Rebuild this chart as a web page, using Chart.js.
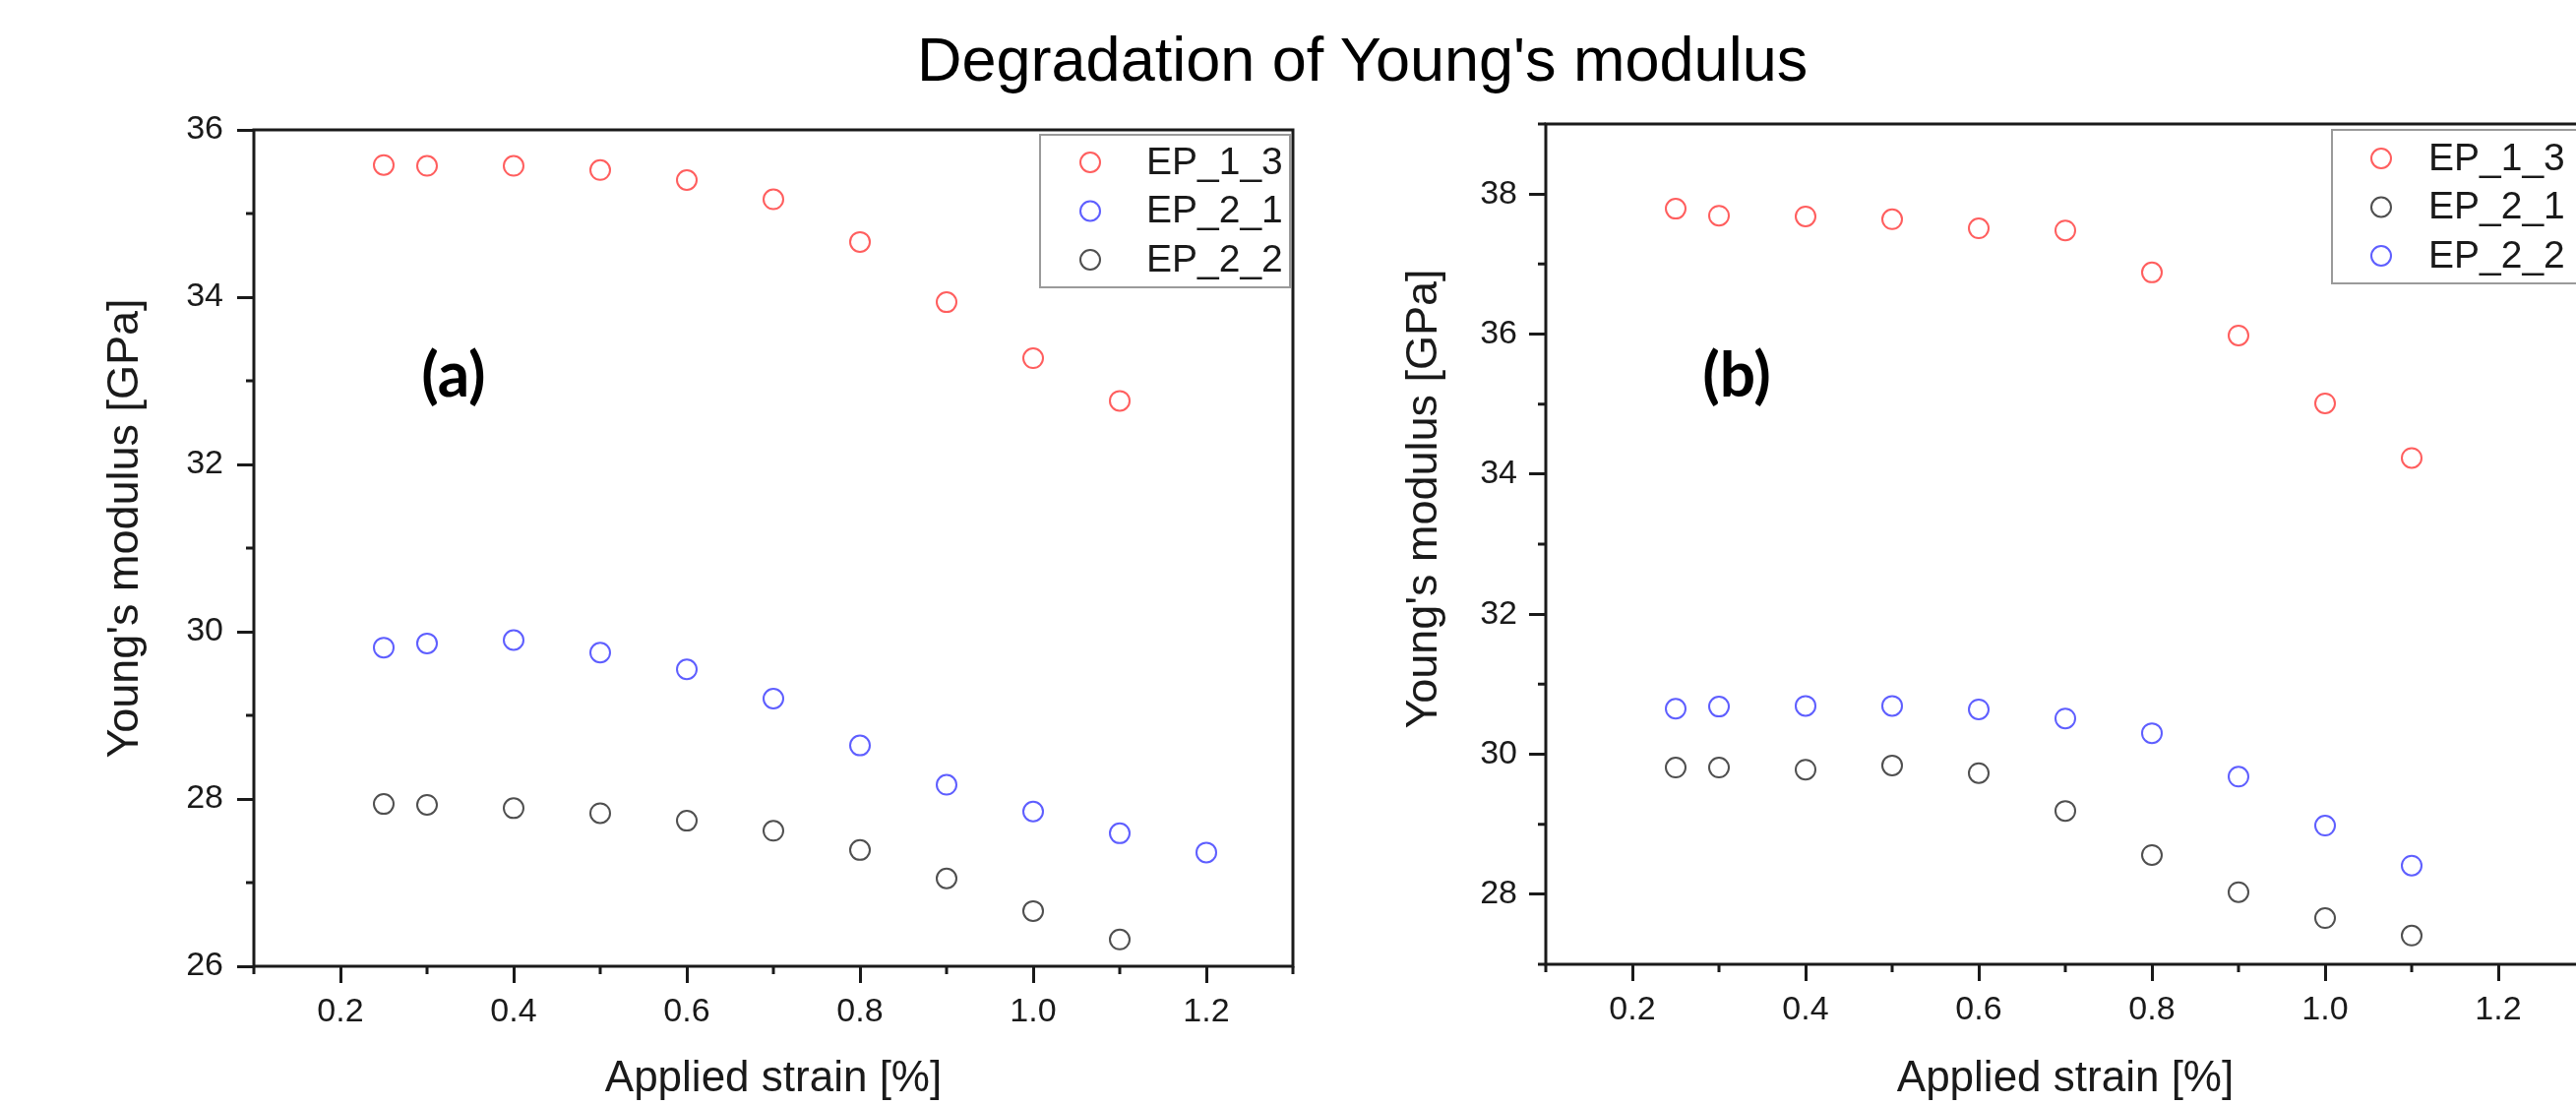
<!DOCTYPE html>
<html>
<head>
<meta charset="utf-8">
<title>Degradation of Young's modulus</title>
<script src="https://cdn.jsdelivr.net/npm/chart.js@4.4.0/dist/chart.umd.min.js"></script>
<style>
  html, body { margin: 0; padding: 0; background: #fff; overflow: hidden; }
  body { width: 2618px; height: 1123px; position: relative; }
  #title { position: absolute; left: 932px; top: 29px; font: 63px 'Liberation Sans', Arial, sans-serif; line-height: 1; color: #000; white-space: nowrap; }
  canvas { position: absolute; top: 0; }
  #left { left: 0; }
  #right { left: 1320px; }
</style>
</head>
<body>
<div id="title">Degradation of Young's modulus</div>
<canvas id="left" width="1340" height="1123"></canvas>
<canvas id="right" width="1340" height="1123"></canvas>
<script>
// applied strain [%]
const strain = [0.25, 0.3, 0.4, 0.5, 0.6, 0.7, 0.8, 0.9, 1.0, 1.1, 1.2];

// panel (a), Young's modulus [GPa]
const aEP13 = [35.58, 35.57, 35.57, 35.52, 35.40, 35.17, 34.66, 33.94, 33.27, 32.76];
const aEP21 = [29.81, 29.86, 29.90, 29.75, 29.55, 29.20, 28.64, 28.17, 27.85, 27.59, 27.36];
const aEP22 = [27.94, 27.93, 27.89, 27.83, 27.74, 27.62, 27.39, 27.05, 26.66, 26.32];

// panel (b)
const bEP13 = [37.79, 37.69, 37.68, 37.64, 37.51, 37.48, 36.88, 35.98, 35.01, 34.23];
const bEP21 = [29.81, 29.81, 29.78, 29.84, 29.73, 29.19, 28.56, 28.03, 27.66, 27.41];
const bEP22 = [30.65, 30.68, 30.69, 30.69, 30.64, 30.51, 30.30, 29.68, 28.98, 28.41];

// ticks
const xTicks = [0.2, 0.4, 0.6, 0.8, 1.0, 1.2];
const xMinor = [0.1, 0.3, 0.5, 0.7, 0.9, 1.1, 1.3];
const aYTicks = [26, 28, 30, 32, 34, 36];
const aYMinor = [27, 29, 31, 33, 35];
const bYTicks = [28, 30, 32, 34, 36, 38];
const bYMinor = [27, 29, 31, 33, 35, 37, 39];

const RED = '#ff5e5e';
const BLUE = '#5e5eff';
const GREY = '#4f4f4f';
const INK = '#1a1a1a';

Chart.defaults.font.family = "'Liberation Sans', Arial, sans-serif";
Chart.defaults.color = INK;

function pts(vals) {
  return vals.map((v, i) => ({x: strain[i], y: v}));
}

function series(label, vals, color) {
  return {
    label: label,
    data: pts(vals),
    borderColor: color,
    pointBorderColor: color,
    pointBackgroundColor: 'rgba(0,0,0,0)',
    pointRadius: 10,
    pointBorderWidth: 2,
    showLine: false
  };
}

// frame, minor ticks, y title, panel tag and boxed legend (Origin style)
const originBits = {
  id: 'originBits',
  afterDraw(chart, args, o) {
    const {ctx, chartArea: a, scales: {x, y}} = chart;
    ctx.save();
    ctx.strokeStyle = INK;
    ctx.lineWidth = 3;
    ctx.strokeRect(a.left, a.top, a.right - a.left, a.bottom - a.top);

    ctx.beginPath();
    o.xMinor.forEach(v => {
      const px = x.getPixelForValue(v);
      ctx.moveTo(px, a.bottom);
      ctx.lineTo(px, a.bottom + 8);
    });
    o.yMinor.forEach(v => {
      const py = y.getPixelForValue(v);
      ctx.moveTo(a.left, py);
      ctx.lineTo(a.left - 8, py);
    });
    ctx.stroke();

    // y axis title, placed like the original (not centred on the axis)
    ctx.save();
    ctx.translate(o.yTitleX, a.top + o.yTitleDy);
    ctx.rotate(-Math.PI / 2);
    ctx.fillStyle = INK;
    ctx.font = "45px 'Liberation Sans', Arial, sans-serif";
    ctx.textAlign = 'center';
    ctx.textBaseline = 'middle';
    ctx.fillText(chart.options.scales.y.title.text, 0, 0);
    ctx.restore();

    // (a) / (b)
    ctx.fillStyle = '#000';
    ctx.font = "bold 64px Lato, 'Open Sans', sans-serif";
    ctx.textAlign = 'center';
    ctx.textBaseline = 'middle';
    ctx.fillText(o.tag, a.left + o.tagDx, a.top + o.tagDy);

    // legend
    const L = o.legend;
    const bx = a.right + L.dx, by = a.top + L.dy;
    ctx.fillStyle = '#fff';
    ctx.fillRect(bx, by, L.w, L.h);
    ctx.strokeStyle = '#9a9a9a';
    ctx.lineWidth = 2;
    ctx.strokeRect(bx, by, L.w, L.h);
    ctx.font = "39px 'Liberation Sans', Arial, sans-serif";
    ctx.textAlign = 'left';
    chart.data.datasets.forEach((ds, i) => {
      const cy = by + L.row0 + i * L.rowGap;
      ctx.beginPath();
      ctx.strokeStyle = ds.borderColor;
      ctx.lineWidth = 2;
      ctx.arc(bx + L.mx, cy, 10, 0, Math.PI * 2);
      ctx.stroke();
      ctx.fillStyle = INK;
      ctx.fillText(ds.label, bx + L.tx, cy + 1);
    });
    ctx.restore();
  }
};

function makeChart(id, datasets, yMin, yMax, yTicks, yMinor, geo) {
  return new Chart(document.getElementById(id), {
    type: 'scatter',
    data: {datasets: datasets},
    plugins: [originBits],
    options: {
      responsive: false,
      animation: false,
      events: [],
      layout: {padding: {top: geo.top, right: geo.right, left: 0, bottom: 0}},
      plugins: {
        legend: {display: false},
        tooltip: {enabled: false},
        originBits: {
          xMinor: xMinor,
          yMinor: yMinor,
          yTitleX: 128,
          yTitleDy: geo.yTitleDy,
          tag: geo.tag,
          tagDx: geo.tagDx,
          tagDy: geo.tagDy,
          legend: geo.legend
        }
      },
      scales: {
        x: {
          type: 'linear',
          min: 0.1,
          max: 1.3,
          afterBuildTicks: s => { s.ticks = xTicks.map(v => ({value: v})); },
          afterFit: s => { s.height = geo.xh; },
          border: {display: false},
          grid: {drawOnChartArea: false, drawTicks: true, tickLength: 17, lineWidth: 3, color: INK},
          ticks: {font: {size: 34}, color: INK, padding: 9, autoSkip: false, maxRotation: 0,
                  callback: v => Number(v).toFixed(1)},
          title: {display: true, text: 'Applied strain [%]', font: {size: 44}, color: INK,
                  padding: {top: 0, bottom: 0}}
        },
        y: {
          type: 'linear',
          min: yMin,
          max: yMax,
          afterBuildTicks: s => { s.ticks = yTicks.map(v => ({value: v})); },
          afterFit: s => { s.width = geo.yw; },
          border: {display: false},
          grid: {drawOnChartArea: false, drawTicks: true, tickLength: 17, lineWidth: 3, color: INK},
          ticks: {font: {size: 34}, color: INK, padding: geo.yPad, autoSkip: false,
                  callback: v => String(v)},
          // drawn by originBits so it can sit off-centre like the original
          title: {display: false, text: "Young's modulus [GPa]"}
        }
      }
    }
  });
}

makeChart('left', [
  series('EP_1_3', aEP13, RED),
  series('EP_2_1', aEP21, BLUE),
  series('EP_2_2', aEP22, GREY)
], 26, 36, aYTicks, aYMinor, {
  top: 132, right: 26, xh: 141, yw: 258, yPad: 14, yTitleDy: 405,
  tag: '(a)', tagDx: 203, tagDy: 250,
  legend: {dx: -257, dy: 5, w: 254, h: 155, mx: 51, tx: 108, row0: 28, rowGap: 49.5}
});

makeChart('right', [
  series('EP_1_3', bEP13, RED),
  series('EP_2_1', bEP21, GREY),
  series('EP_2_2', bEP22, BLUE)
], 27, 39, bYTicks, bYMinor, {
  top: 126, right: 33, xh: 143, yw: 251, yPad: 12, yTitleDy: 381,
  tag: '(b)', tagDx: 194, tagDy: 256,
  legend: {dx: -257, dy: 6, w: 254, h: 156, mx: 50, tx: 98, row0: 29, rowGap: 49.5}
});
</script>
</body>
</html>
